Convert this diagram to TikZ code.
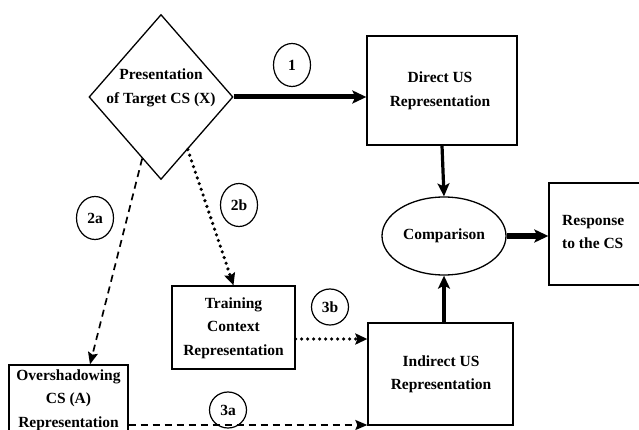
\documentclass[tikz,border=0pt]{standalone}
\usepackage{fontspec}
\setmainfont{Liberation Serif}
\usetikzlibrary{shapes.geometric,arrows.meta}

\begin{document}
\begin{tikzpicture}[x=1pt,y=-1pt,
  font=\fontsize{15.5}{23.5}\selectfont\bfseries,
  box/.style={draw, line width=1.3pt, inner sep=0pt},
  lbl/.style={align=center, inner sep=0pt},
  tag/.style={draw, ellipse, line width=1.2pt, minimum width=37pt, minimum height=43pt, inner sep=0pt},
  tagsm/.style={tag, minimum height=36pt},
  heavy/.style={line width=5pt, -{Stealth[length=14pt,width=13pt,inset=3pt]}},
  medium/.style={line width=3.2pt, -{Stealth[length=13pt,width=12pt,inset=3pt]}},
  dashedarrow/.style={line width=1.7pt, dash pattern=on 7pt off 5pt, -{Stealth[length=12pt,width=10pt,inset=2pt]}},
  dottedarrow/.style={line width=3.6pt, line cap=round, dash pattern=on 0pt off 6pt, -{Stealth[length=12pt,width=11pt,inset=2pt]}}]
\useasboundingbox (0,0) rectangle (639,430);

% decision diamond and its label
\node[draw, diamond, line width=1.3pt, minimum width=144pt, minimum height=165pt, inner sep=0pt] (cs) at (161,97) {};
\node[lbl] (cslbl) at (161,88) {Presentation\\of Target CS (X)};

% representation boxes
\node[box, minimum width=150pt, minimum height=109pt] (dus) at (442,90.5) {};
\node[lbl] (duslbl) at (440,91) {Direct US\\Representation};

\node[box, minimum width=145pt, minimum height=102pt] (ind) at (440.5,374) {};
\node[lbl] (indlbl) at (441,374.5) {Indirect US\\Representation};

\node[box, minimum width=123pt, minimum height=83pt] (tr) at (233.5,327.5) {};
\node[lbl] (trlbl) at (233.5,328) {Training\\Context\\Representation};

\node[box, minimum width=119pt, minimum height=75pt] (ov) at (68.5,402.5) {};
\node[lbl] (ovlbl) at (68.5,400) {Overshadowing\\CS (A)\\Representation};

\node[box, minimum width=111pt, minimum height=102pt] (resp) at (604.5,234) {};
\node[align=left, inner sep=0pt, anchor=west] (resplbl) at (562,232) {Response\\to the CS};

% comparison stage
\node[draw, ellipse, line width=1.3pt, minimum width=124pt, minimum height=78pt, inner sep=0pt] (cmp) at (444,236) {Comparison};

% numbered pathway tags
\node[tag] (t1) at (292,65) {1};
\node[tag] (t2a) at (95,218) {2a};
\node[tag] (t2b) at (239,205) {2b};
\node[tagsm] (t3b) at (330,307) {3b};
\node[tagsm] (t3a) at (228,410) {3a};

% connectors
\draw[heavy] (cs.east) -- (cs.east -| dus.west);
\draw[medium] (dus.south) -- (cmp.north);
\draw[medium] (ind.north -| cmp.south) -- (cmp.south);
\draw[heavy] (cmp.east) -- (cmp.east -| resp.west);

\draw[dashedarrow] (cs.-107) -- ([xshift=21.5pt]ov.north);
\draw[dottedarrow] (cs.-63) -- (tr.north);
\draw[dottedarrow] ([yshift=-11.5pt]tr.east) -- ([yshift=-11.5pt]tr.east -| ind.west);
\draw[dashedarrow] ([yshift=-22.5pt]ov.east) -- ([yshift=-22.5pt]ov.east -| ind.west);
\end{tikzpicture}
\end{document}
